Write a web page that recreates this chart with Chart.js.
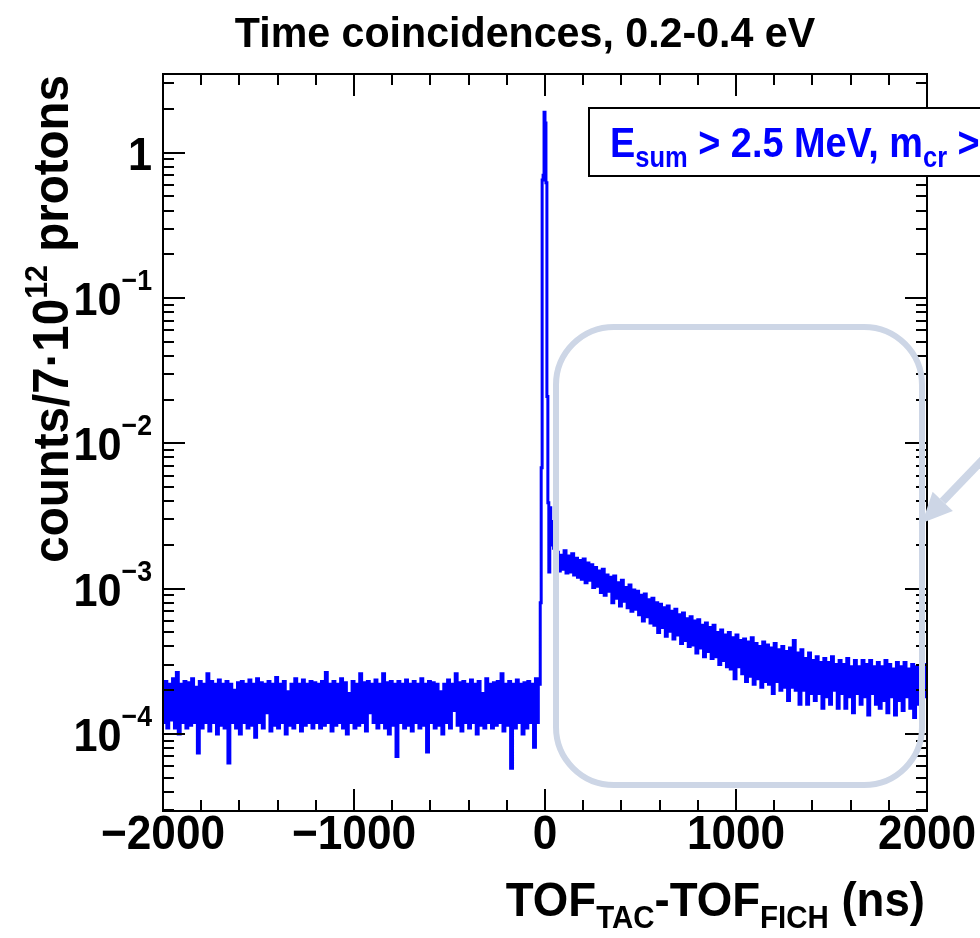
<!DOCTYPE html>
<html><head><meta charset="utf-8">
<script src="https://cdn.jsdelivr.net/npm/chart.js@4.4.1/dist/chart.umd.min.js"></script>
<style>html,body{margin:0;padding:0;background:#fff;overflow:hidden}#wrap{width:980px;height:938px;position:relative}</style>
</head><body><div id="wrap"><canvas id="c" width="980" height="938"></canvas></div>
<script>
// ---------- data ----------
const titleText = 'Time coincidences, 0.2-0.4 eV';
const xRange = [-2000, 2000];
const yRange = [2.95e-5, 3.48];
const xMajorTicks = [-2000, -1000, 0, 1000, 2000];
const xTickLabels = ['\u22122000', '\u22121000', '0', '1000', '2000'];
const xMinorStep = 200;
const yDecades = [1e-4, 1e-3, 1e-2, 1e-1, 1];
const yTickLabels = [['10', '\u22124'], ['10', '\u22123'], ['10', '\u22122'], ['10', '\u22121'], ['1', '']];

// background region: 10 ns bins from -2000 ns
const bgStart = -2000, bgWidth = 10;
const bgCounts = [
 1.2e-4, 2.3e-4, 1.1e-4, 2.2e-4, 1.25e-4, 2.4e-4, 1.1e-4, 2.65e-4, 1.0e-4, 2.2e-4,
 1.2e-4, 2.3e-4, 1.1e-4, 2.25e-4, 1.15e-4, 2.4e-4, 1.2e-4, 2.1e-4, 0.74e-4, 2.3e-4,
 1.1e-4, 2.2e-4, 1.2e-4, 2.6e-4, 1.05e-4, 2.3e-4, 1.2e-4, 2.2e-4, 1.0e-4, 2.35e-4,
 1.15e-4, 2.2e-4, 1.1e-4, 2.3e-4, 0.63e-4, 2.2e-4, 1.2e-4, 2.0e-4, 1.1e-4, 2.25e-4,
 1.0e-4, 2.3e-4, 1.2e-4, 2.2e-4, 1.1e-4, 2.35e-4, 1.15e-4, 2.2e-4, 0.95e-4, 2.4e-4,
 1.2e-4, 2.25e-4, 1.1e-4, 2.2e-4, 1.4e-4, 2.3e-4, 1.05e-4, 2.2e-4, 1.15e-4, 2.45e-4,
 1.1e-4, 2.2e-4, 1.2e-4, 2.3e-4, 1.0e-4, 1.95e-4, 1.15e-4, 2.2e-4, 1.1e-4, 2.4e-4,
 1.2e-4, 2.2e-4, 1.05e-4, 2.35e-4, 1.15e-4, 2.2e-4, 1.2e-4, 2.3e-4, 1.1e-4, 2.25e-4,
 1.2e-4, 2.2e-4, 1.1e-4, 2.3e-4, 1.15e-4, 2.65e-4, 1.2e-4, 2.2e-4, 1.05e-4, 2.3e-4,
 1.15e-4, 2.2e-4, 1.2e-4, 2.4e-4, 1.1e-4, 2.25e-4, 1.0e-4, 1.9e-4, 1.2e-4, 2.3e-4,
 1.1e-4, 2.2e-4, 1.15e-4, 2.6e-4, 1.2e-4, 2.25e-4, 1.05e-4, 2.3e-4, 1.4e-4, 2.2e-4,
 1.2e-4, 2.35e-4, 1.1e-4, 2.2e-4, 1.2e-4, 2.6e-4, 1.1e-4, 2.25e-4, 1.0e-4, 2.3e-4,
 1.15e-4, 2.2e-4, 0.70e-4, 2.3e-4, 1.2e-4, 2.2e-4, 1.1e-4, 2.35e-4, 1.15e-4, 2.2e-4,
 1.05e-4, 2.3e-4, 1.2e-4, 2.2e-4, 1.1e-4, 2.4e-4, 1.15e-4, 2.2e-4, 0.75e-4, 2.3e-4,
 1.2e-4, 2.25e-4, 1.1e-4, 2.2e-4, 1.15e-4, 1.95e-4, 1.0e-4, 2.2e-4, 1.2e-4, 2.35e-4,
 1.1e-4, 2.2e-4, 1.45e-4, 2.6e-4, 1.15e-4, 2.25e-4, 1.05e-4, 2.3e-4, 1.2e-4, 2.2e-4,
 1.1e-4, 2.35e-4, 1.2e-4, 2.2e-4, 1.0e-4, 2.3e-4, 1.15e-4, 1.9e-4, 1.1e-4, 2.4e-4,
 1.2e-4, 2.2e-4, 1.1e-4, 2.25e-4, 1.15e-4, 2.3e-4, 1.2e-4, 2.6e-4, 1.05e-4, 2.2e-4,
 1.15e-4, 2.3e-4, 0.58e-4, 2.2e-4, 1.1e-4, 2.35e-4, 1.2e-4, 2.2e-4, 1.0e-4, 2.25e-4,
 1.1e-4, 2.3e-4, 1.2e-4, 2.2e-4, 0.81e-4, 2.4e-4
];
// prompt peak: 5 ns bins from -40 ns
const peakStart = -40, peakWidth = 5;
const peakCounts = [
 1.2e-4, 2.4e-4, 2.2e-4, 8.0e-4, 6.8e-3, 0.65, 0.70, 1.9, 1.6, 0.62,
 2.1e-2, 3.9e-3, 1.3e-3, 3.6e-3, 2.4e-3, 2.9e-3, 2.0e-3, 1.9e-3, 2.1e-3, 1.6e-3
];
// delayed tail: 10 ns bins from 60 ns
const tailStart = 60, tailWidth = 10;
const tailCounts = [
 17.8e-4, 13.2e-4, 17.0e-4, 13.6e-4, 18.2e-4, 12.8e-4, 16.8e-4, 13.0e-4, 17.4e-4, 12.4e-4,
 16.2e-4, 12.0e-4, 15.6e-4, 11.6e-4, 16.0e-4, 11.0e-4, 15.0e-4, 11.4e-4, 14.6e-4, 10.2e-4,
 14.0e-4, 10.4e-4, 13.2e-4, 9.4e-4, 13.6e-4, 9.0e-4, 12.4e-4, 9.6e-4, 12.0e-4, 8.0e-4,
 12.2e-4, 8.6e-4, 11.0e-4, 7.6e-4, 11.4e-4, 8.2e-4, 10.2e-4, 7.4e-4, 10.6e-4, 7.0e-4,
 9.8e-4, 7.2e-4, 9.6e-4, 6.6e-4, 9.0e-4, 6.0e-4, 9.2e-4, 6.4e-4, 8.4e-4, 5.8e-4,
 8.6e-4, 5.6e-4, 8.0e-4, 5.0e-4, 7.8e-4, 5.4e-4, 7.4e-4, 4.7e-4, 7.6e-4, 5.1e-4,
 7.0e-4, 4.5e-4, 7.2e-4, 4.8e-4, 6.6e-4, 4.2e-4, 6.8e-4, 4.4e-4, 6.2e-4, 4.0e-4,
 6.4e-4, 4.1e-4, 6.0e-4, 3.6e-4, 6.1e-4, 3.9e-4, 5.6e-4, 3.4e-4, 5.8e-4, 3.7e-4,
 5.4e-4, 3.3e-4, 5.6e-4, 3.4e-4, 5.0e-4, 3.0e-4, 5.2e-4, 3.2e-4, 4.8e-4, 2.9e-4,
 5.0e-4, 2.8e-4, 4.6e-4, 2.4e-4, 4.8e-4, 2.9e-4, 4.4e-4, 2.6e-4, 4.5e-4, 2.3e-4,
 4.3e-4, 2.5e-4, 4.6e-4, 2.2e-4, 4.2e-4, 2.4e-4, 4.0e-4, 2.1e-4, 4.3e-4, 2.3e-4,
 4.1e-4, 2.2e-4, 3.9e-4, 1.9e-4, 4.2e-4, 2.3e-4, 3.8e-4, 2.0e-4, 4.0e-4, 2.1e-4,
 3.7e-4, 1.7e-4, 3.9e-4, 2.1e-4, 4.4e-4, 2.0e-4, 3.6e-4, 1.6e-4, 3.8e-4, 2.0e-4,
 3.3e-4, 1.6e-4, 3.6e-4, 1.9e-4, 3.2e-4, 1.7e-4, 3.4e-4, 1.9e-4, 3.1e-4, 1.5e-4,
 3.3e-4, 1.8e-4, 3.1e-4, 1.6e-4, 3.4e-4, 2.0e-4, 3.0e-4, 1.5e-4, 3.2e-4, 1.9e-4,
 3.0e-4, 1.5e-4, 3.3e-4, 1.8e-4, 2.9e-4, 1.4e-4, 3.2e-4, 1.9e-4, 2.9e-4, 1.6e-4,
 3.2e-4, 1.8e-4, 3.0e-4, 1.35e-4, 3.2e-4, 1.9e-4, 2.9e-4, 1.6e-4, 3.1e-4, 1.5e-4,
 2.9e-4, 1.7e-4, 3.2e-4, 1.4e-4, 3.0e-4, 1.8e-4, 2.8e-4, 1.35e-4, 3.1e-4, 1.7e-4,
 2.9e-4, 1.45e-4, 3.1e-4, 1.8e-4, 2.8e-4, 1.5e-4, 3.0e-4, 1.3e-4, 2.9e-4, 1.6e-4,
 2.8e-4, 1.4e-4, 3.0e-4, 1.8e-4
];

// ---------- build histogram points (left bin edges, stepped) ----------
const pts = [];
function addBins(start, width, arr) { arr.forEach((v, i) => pts.push({ x: start + i * width, y: v })); }
addBins(bgStart, bgWidth, bgCounts);
addBins(peakStart, peakWidth, peakCounts);
addBins(tailStart, tailWidth, tailCounts);
pts.push({ x: xRange[1], y: tailCounts[tailCounts.length - 1] });

// ---------- styles ----------
const FONT = '"Liberation Sans", Arial, Helvetica, sans-serif';
const OVERLAY = '#cdd6e6';

function richWidth(ctx, parts) {
  let w = 0;
  for (const p of parts) { ctx.font = `bold ${p.size}px ${FONT}`; w += ctx.measureText(p.t).width; }
  return w;
}
function drawRich(ctx, parts, x, y, align, color, hs) {
  hs = hs || 1;
  const w = richWidth(ctx, parts) * hs;
  const sx = align === 'right' ? x - w : align === 'center' ? x - w / 2 : x;
  ctx.save();
  ctx.translate(sx, y);
  ctx.scale(hs, 1);
  ctx.fillStyle = color; ctx.textAlign = 'left'; ctx.textBaseline = 'alphabetic';
  let cx = 0;
  for (const p of parts) {
    ctx.font = `bold ${p.size}px ${FONT}`;
    ctx.fillText(p.t, cx, p.dy || 0);
    cx += ctx.measureText(p.t).width;
  }
  ctx.restore();
}

const overlay = {
  id: 'rootStyle',
  afterDraw(chart) {
    const ctx = chart.ctx, a = chart.chartArea;
    const xs = chart.scales.x, ys = chart.scales.y;
    ctx.save();
    // frame
    ctx.strokeStyle = '#000'; ctx.lineWidth = 2;
    ctx.strokeRect(a.left, a.top, a.right - a.left, a.bottom - a.top);
    // x ticks
    for (let v = xRange[0]; v <= xRange[1]; v += xMinorStep) {
      const px = Math.round(xs.getPixelForValue(v));
      const len = xMajorTicks.includes(v) ? 22 : 11;
      ctx.beginPath();
      ctx.moveTo(px, a.bottom); ctx.lineTo(px, a.bottom - len);
      ctx.moveTo(px, a.top); ctx.lineTo(px, a.top + len);
      ctx.stroke();
    }
    // y ticks
    for (let e = -5; e <= 0; e++) {
      for (let m = 1; m <= 9; m++) {
        const v = m * Math.pow(10, e);
        if (v < yRange[0] || v > yRange[1]) continue;
        const py = Math.round(ys.getPixelForValue(v));
        const len = m === 1 ? 22 : 11;
        ctx.beginPath();
        ctx.moveTo(a.left, py); ctx.lineTo(a.left + len, py);
        ctx.moveTo(a.right, py); ctx.lineTo(a.right - len, py);
        ctx.stroke();
      }
    }
    // x tick labels
    xMajorTicks.forEach((v, i) => {
      drawRich(ctx, [{ t: xTickLabels[i], size: 48 }], xs.getPixelForValue(v), 849, 'center', '#000', 0.92);
    });
    // y tick labels
    yDecades.forEach((v, i) => {
      const py = ys.getPixelForValue(v);
      const [base, ex] = yTickLabels[i];
      const parts = [{ t: base, size: 47, dy: 17 }];
      if (ex) parts.push({ t: ex, size: 29, dy: -8 });
      drawRich(ctx, parts, 152, py, 'right', '#000', 0.92);
    });
    // title
    drawRich(ctx, [{ t: titleText, size: 42 }], 525, 47, 'center', '#000', 0.98);
    // x axis title
    drawRich(ctx, [
      { t: 'TOF', size: 48 }, { t: 'TAC', size: 31, dy: 12 }, { t: '-TOF', size: 48 },
      { t: 'FICH', size: 31, dy: 12 }, { t: ' (ns)', size: 48 }
    ], 925, 916, 'right', '#000', 0.95);
    // y axis title (rotated)
    ctx.save();
    ctx.translate(68, 75);
    ctx.rotate(-Math.PI / 2);
    drawRich(ctx, [
      { t: 'counts/7\u00b710', size: 50 }, { t: '12', size: 32, dy: -21 }, { t: ' protons', size: 50 }
    ], 0, 0, 'right', '#000', 0.95);
    ctx.restore();
    // highlight rounded rectangle
    ctx.strokeStyle = OVERLAY; ctx.lineWidth = 6;
    ctx.beginPath();
    if (ctx.roundRect) ctx.roundRect(556, 327, 366, 458, 58); else ctx.rect(556, 327, 366, 458);
    ctx.stroke();
    // arrow
    ctx.lineWidth = 8; ctx.lineCap = 'butt';
    const tip = [922, 523], from = [990, 452];
    const ang = Math.atan2(tip[1] - from[1], tip[0] - from[0]);
    const hl = 30, hw = 14;
    const bx = tip[0] - hl * Math.cos(ang), by = tip[1] - hl * Math.sin(ang);
    ctx.beginPath(); ctx.moveTo(from[0], from[1]); ctx.lineTo(bx, by); ctx.stroke();
    ctx.fillStyle = OVERLAY;
    ctx.beginPath();
    ctx.moveTo(tip[0], tip[1]);
    ctx.lineTo(bx + hw * Math.sin(ang), by - hw * Math.cos(ang));
    ctx.lineTo(bx - hw * Math.sin(ang), by + hw * Math.cos(ang));
    ctx.closePath(); ctx.fill();
    // cut box legend
    ctx.fillStyle = '#fff'; ctx.fillRect(589, 108, 420, 68);
    ctx.strokeStyle = '#000'; ctx.lineWidth = 2; ctx.strokeRect(589, 108, 420, 68);
    drawRich(ctx, [
      { t: 'E', size: 43 }, { t: 'sum', size: 29, dy: 10 }, { t: ' > 2.5 MeV, m', size: 43 },
      { t: 'cr', size: 29, dy: 10 }, { t: ' > 2', size: 43 }
    ], 610, 157, 'left', '#0000ff', 0.88);
    ctx.restore();
  }
};

new Chart(document.getElementById('c'), {
  type: 'line',
  data: { datasets: [{ data: pts, borderColor: '#0000ff', borderWidth: 3, pointRadius: 0, stepped: 'before', fill: false, tension: 0 }] },
  options: {
    responsive: false, animation: false, devicePixelRatio: 1,
    layout: { padding: { top: 74, right: 53, left: 0, bottom: 0 } },
    plugins: { legend: { display: false }, title: { display: false }, tooltip: { enabled: false } },
    scales: {
      x: { type: 'linear', min: xRange[0], max: xRange[1], grid: { display: false }, border: { display: false }, ticks: { display: false }, afterFit(s) { s.height = 127; } },
      y: { type: 'logarithmic', min: yRange[0], max: yRange[1], grid: { display: false }, border: { display: false }, ticks: { display: false }, afterFit(s) { s.width = 163; } }
    }
  },
  plugins: [overlay]
});
</script></body></html>
